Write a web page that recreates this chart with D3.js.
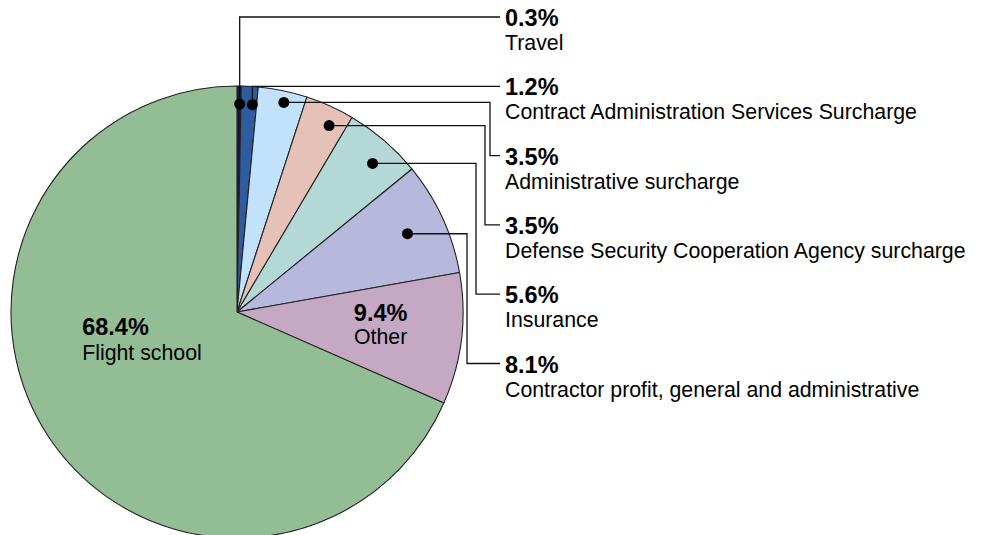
<!DOCTYPE html>
<html>
<head>
<meta charset="utf-8">
<script src="https://cdn.jsdelivr.net/npm/d3@7"></script>
<style>
  html, body { margin: 0; padding: 0; background: #fff; }
  svg { display: block; font-family: Arial, "Liberation Sans", Helvetica, sans-serif; }
</style>
</head>
<body>
<svg id="chart" width="983" height="535"></svg>
<script>
// ---- data ----
const categories = [
  "Travel",
  "Contract Administration Services Surcharge",
  "Administrative surcharge",
  "Defense Security Cooperation Agency surcharge",
  "Insurance",
  "Contractor profit, general and administrative",
  "Other",
  "Flight school"
];
const values = [0.3, 1.2, 3.5, 3.5, 5.6, 8.1, 9.4, 68.4];
const valueLabels = ["0.3%", "1.2%", "3.5%", "3.5%", "5.6%", "8.1%", "9.4%", "68.4%"];
const colors = ["#1d1240", "#2f5c9e", "#c2e1fb", "#e6c1b7", "#b4d8d6", "#b6b9dc", "#c4a8c4", "#93bd94"];
// which slices get an external callout (rest labeled inside)
const calloutIdx = [0, 1, 2, 3, 4, 5];

// ---- layout ----
const W = 983, H = 535;
const cx = 237, cy = 312, R = 226;
const labelX = 500;         // where leader lines end
const textX = 505;          // text start
const firstLabelY = 17, labelStep = 69.3;
// per-callout layout: dot radius factor, angle nudge (deg), elbow x (null = vertical from dot)
const dotR = [0.92, 0.92, 0.95, 0.92, 0.89, 0.83];
const dotNudge = [0.2, 1.0, 0.9, 2.0, 1.7, 0];
const elbowX = [null, null, 490, 485, 476, 467];
const pctSize = 23.5, lblSize = 21.3;

const svg = d3.select("#chart");

const pie = d3.pie().sort(null).value(d => d)(values);
const arc = d3.arc().innerRadius(0).outerRadius(R);

const g = svg.append("g").attr("transform", `translate(${cx},${cy})`);

g.selectAll("path.slice")
  .data(pie)
  .join("path")
  .attr("class", "slice")
  .attr("d", arc)
  .attr("fill", (d, i) => colors[i])
  .attr("stroke", "#222")
  .attr("stroke-width", 1.1)
  .attr("stroke-linejoin", "round");

// callouts
calloutIdx.forEach((idx, k) => {
  const d = pie[idx];
  const mid = (d.startAngle + d.endAngle) / 2 + dotNudge[k] * Math.PI / 180;
  const r = R * dotR[k];
  const dx = cx + r * Math.sin(mid);
  const dy = cy - r * Math.cos(mid);
  const ly = firstLabelY + k * labelStep;
  const ex = elbowX[k] === null ? dx : elbowX[k];
  const pts = [[dx, dy], [ex, dy], [ex, ly], [labelX, ly]];
  svg.append("path")
    .attr("d", d3.line()(pts))
    .attr("fill", "none")
    .attr("stroke", "#111")
    .attr("stroke-width", 1.3);
  svg.append("circle")
    .attr("cx", dx).attr("cy", dy).attr("r", 5.5)
    .attr("fill", "#000");
  svg.append("text")
    .attr("x", textX).attr("y", ly + 9)
    .attr("font-size", pctSize).attr("font-weight", "bold")
    .attr("fill", "#000")
    .text(valueLabels[idx]);
  svg.append("text")
    .attr("x", textX).attr("y", ly + 33)
    .attr("font-size", lblSize)
    .attr("fill", "#000")
    .text(categories[idx]);
});

// inside label: Other (centroid)
{
  const idx = 6, d = pie[idx];
  const mid = (d.startAngle + d.endAngle) / 2;
  const r = R * 0.64;
  const x = cx + r * Math.sin(mid), y = cy - r * Math.cos(mid);
  svg.append("text").attr("x", x).attr("y", y - 8)
    .attr("text-anchor", "middle").attr("font-size", pctSize).attr("font-weight", "bold")
    .text(valueLabels[idx]);
  svg.append("text").attr("x", x).attr("y", y + 15)
    .attr("text-anchor", "middle").attr("font-size", lblSize)
    .text(categories[idx]);
}
// inside label: Flight school
{
  const idx = 7;
  const x = cx - R * 0.685, y = cy + R * 0.102;
  svg.append("text").attr("x", x).attr("y", y)
    .attr("font-size", pctSize).attr("font-weight", "bold")
    .text(valueLabels[idx]);
  svg.append("text").attr("x", x).attr("y", y + 25)
    .attr("font-size", lblSize)
    .text(categories[idx]);
}
</script>
</body>
</html>
